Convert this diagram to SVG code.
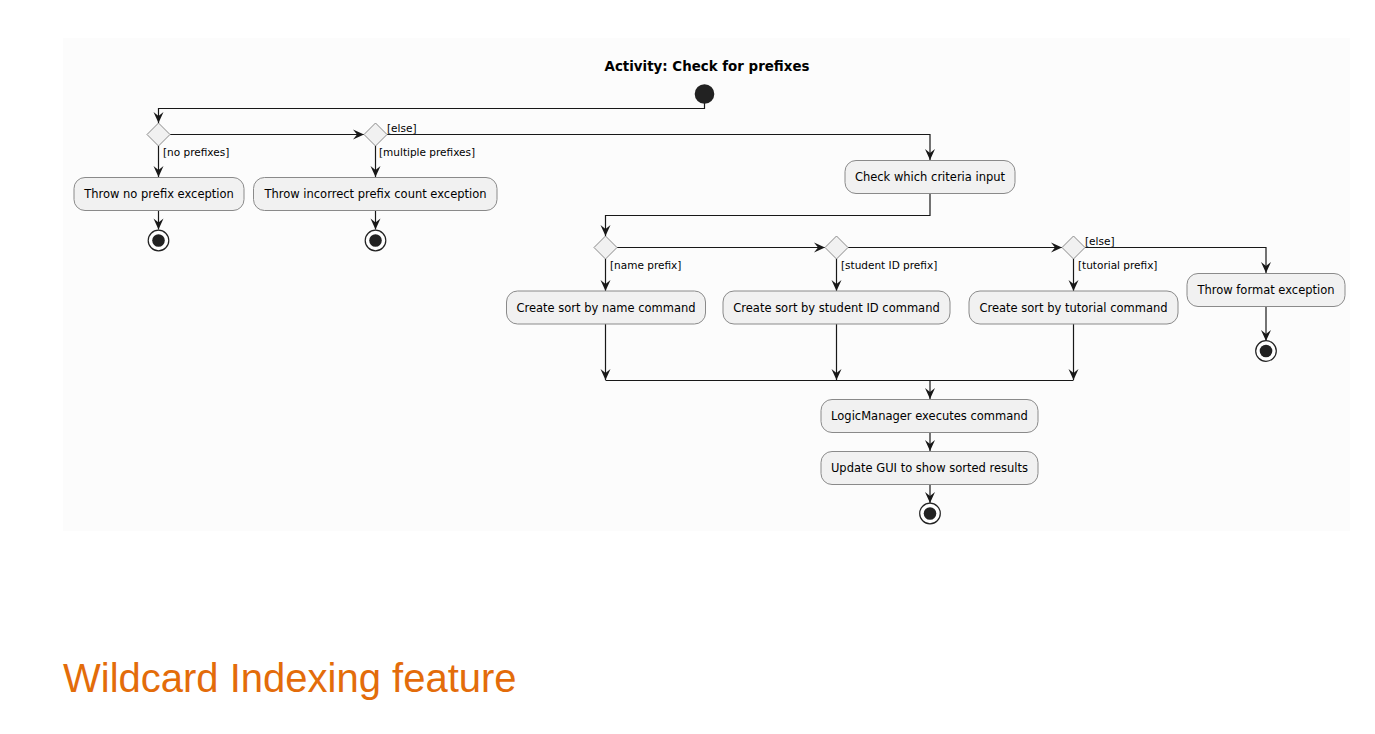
<svg xmlns="http://www.w3.org/2000/svg" width="1375" height="734" viewBox="0 0 1375 734">
<style>
.bg{fill:#fcfcfc}
.box{fill:#f1f1f1;stroke:#8a8a8a;stroke-width:1}
.dia{fill:#f1f1f1;stroke:#8a8a8a;stroke-width:1}
.t{font-family:"DejaVu Sans",sans-serif;font-size:11.5px;fill:#000;text-anchor:middle}
.lbl{font-family:"DejaVu Sans",sans-serif;font-size:10.5px;fill:#000}
.title{font-family:"DejaVu Sans",sans-serif;font-size:13.4px;font-weight:bold;fill:#000;text-anchor:middle}
.ln{fill:none;stroke:#181818;stroke-width:1.2}
.start{fill:#222}
.endo{fill:#fff;stroke:#222;stroke-width:1.2}
.endi{fill:#222}
.heading{font-family:"Liberation Sans",Arial,sans-serif;font-size:40px;fill:#e36c0a}
</style>
<defs>
<marker id="arr" viewBox="-12 -6 13 12" refX="0" refY="0" markerWidth="13" markerHeight="12" markerUnits="userSpaceOnUse" orient="auto">
<path d="M0,0 L-11,-5 L-7,0 L-11,5 Z" fill="#181818"/>
</marker>
</defs>
<rect class="bg" x="63" y="38" width="1287" height="493"/>
<text class="title" x="707" y="71">Activity: Check for prefixes</text>

<g id="connectors">
<path class="ln" d="M704.5,103 V108.5 H158.5 V123" marker-end="url(#arr)"/>
<path class="ln" d="M170,134.5 H364" marker-end="url(#arr)"/>
<path class="ln" d="M387,134.5 H930 V160" marker-end="url(#arr)"/>
<path class="ln" d="M158.5,146 V177" marker-end="url(#arr)"/>
<path class="ln" d="M158.5,211 V229.5" marker-end="url(#arr)"/>
<path class="ln" d="M375.5,146 V177" marker-end="url(#arr)"/>
<path class="ln" d="M375.5,211 V229.5" marker-end="url(#arr)"/>
<path class="ln" d="M930,193 V215.5 H605.5 V236" marker-end="url(#arr)"/>
<path class="ln" d="M617,247.5 H825" marker-end="url(#arr)"/>
<path class="ln" d="M848,247.5 H1062" marker-end="url(#arr)"/>
<path class="ln" d="M1085,247.5 H1266 V273" marker-end="url(#arr)"/>
<path class="ln" d="M605.5,259 V291" marker-end="url(#arr)"/>
<path class="ln" d="M836.5,259 V291" marker-end="url(#arr)"/>
<path class="ln" d="M1073.5,259 V291" marker-end="url(#arr)"/>
<path class="ln" d="M1266,307 V341" marker-end="url(#arr)"/>
<path class="ln" d="M605.5,323 V380" marker-end="url(#arr)"/>
<path class="ln" d="M836.5,323 V380" marker-end="url(#arr)"/>
<path class="ln" d="M1073.5,323 V380" marker-end="url(#arr)"/>
<path class="ln" d="M605.5,380.5 H1073.5"/>
<path class="ln" d="M930,380.5 V399" marker-end="url(#arr)"/>
<path class="ln" d="M930,432 V451" marker-end="url(#arr)"/>
<path class="ln" d="M930,484 V503" marker-end="url(#arr)"/>
<text class="lbl" x="163" y="156">[no prefixes]</text>
<text class="lbl" x="379" y="156">[multiple prefixes]</text>
<text class="lbl" x="387" y="132">[else]</text>
<text class="lbl" x="610" y="269">[name prefix]</text>
<text class="lbl" x="841" y="269">[student ID prefix]</text>
<text class="lbl" x="1078" y="269">[tutorial prefix]</text>
<text class="lbl" x="1085" y="245">[else]</text>
</g>

<g id="start"><circle class="start" cx="704.5" cy="94" r="9.8"/></g>

<g id="decision1"><polygon class="dia" points="158.5,123 170,134.5 158.5,146 147,134.5"/></g>
<g id="decision2"><polygon class="dia" points="375.5,123 387,134.5 375.5,146 364,134.5"/></g>

<g id="throwNoPrefix"><rect class="box" x="74" y="177.5" width="170" height="33" rx="11"/><text class="t" x="159" y="198">Throw no prefix exception</text></g>
<g id="throwCount"><rect class="box" x="253.5" y="177.5" width="243.5" height="33" rx="11"/><text class="t" x="375.5" y="198">Throw incorrect prefix count exception</text></g>
<g id="end1"><circle class="endo" cx="158.5" cy="240.5" r="10.3"/><circle class="endi" cx="158.5" cy="240.5" r="6.3"/></g>
<g id="end2"><circle class="endo" cx="375.5" cy="240.5" r="10.3"/><circle class="endi" cx="375.5" cy="240.5" r="6.3"/></g>

<g id="checkCriteria"><rect class="box" x="845" y="160.5" width="170" height="33" rx="11"/><text class="t" x="930" y="181">Check which criteria input</text></g>

<g id="decision3"><polygon class="dia" points="605.5,236 617,247.5 605.5,259 594,247.5"/></g>
<g id="decision4"><polygon class="dia" points="836.5,236 848,247.5 836.5,259 825,247.5"/></g>
<g id="decision5"><polygon class="dia" points="1073.5,236 1085,247.5 1073.5,259 1062,247.5"/></g>

<g id="sortName"><rect class="box" x="506.5" y="291" width="199" height="33" rx="11"/><text class="t" x="606" y="311.5">Create sort by name command</text></g>
<g id="sortId"><rect class="box" x="723" y="291" width="227" height="33" rx="11"/><text class="t" x="836.5" y="311.5">Create sort by student ID command</text></g>
<g id="sortTutorial"><rect class="box" x="969" y="291" width="209" height="33" rx="11"/><text class="t" x="1073.5" y="311.5">Create sort by tutorial command</text></g>
<g id="throwFormat"><rect class="box" x="1187" y="273.5" width="158" height="33" rx="11"/><text class="t" x="1266" y="294">Throw format exception</text></g>
<g id="end3"><circle class="endo" cx="1266" cy="351" r="10.3"/><circle class="endi" cx="1266" cy="351" r="6.3"/></g>

<g id="logicExec"><rect class="box" x="821" y="399.5" width="217" height="33" rx="11"/><text class="t" x="929.5" y="420">LogicManager executes command</text></g>
<g id="updateGui"><rect class="box" x="821" y="451.5" width="217" height="33" rx="11"/><text class="t" x="929.5" y="472">Update GUI to show sorted results</text></g>
<g id="end4"><circle class="endo" cx="930" cy="513.5" r="10.3"/><circle class="endi" cx="930" cy="513.5" r="6.3"/></g>

<text class="heading" x="63" y="692">Wildcard Indexing feature</text>
</svg>
